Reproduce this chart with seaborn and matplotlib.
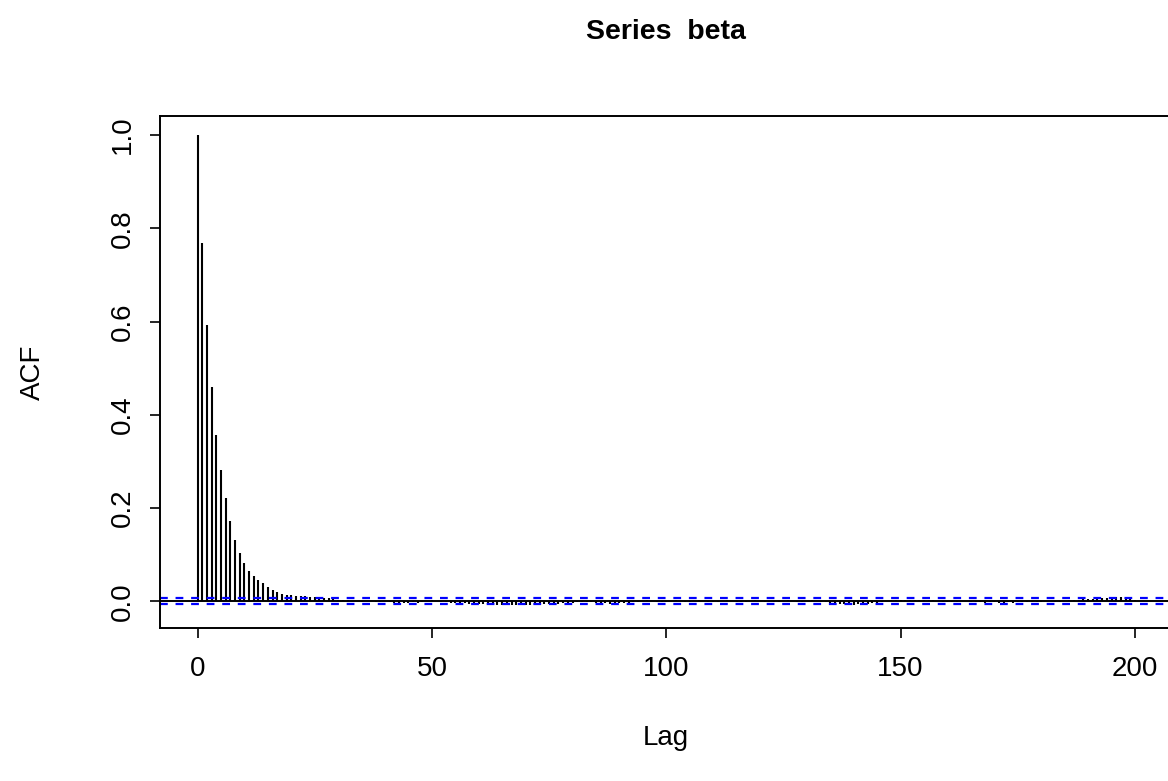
import numpy as np
import pandas as pd
import matplotlib
matplotlib.use("Agg")
import matplotlib.pyplot as plt
import seaborn as sns

# Autocorrelation estimates of the "beta" series, lags 0..200
acf_values = [
    1.000, 0.768, 0.592, 0.460, 0.357, 0.282, 0.221, 0.173, 0.132, 0.104,
    0.082, 0.066, 0.055, 0.046, 0.039, 0.031, 0.025, 0.020, 0.016, 0.014,
    0.013,
    0.012, 0.011, 0.011, 0.010, 0.010, 0.009, 0.008, 0.007, 0.005, 0.004, 0.003,
    0.002, 0.001, 0.000, -0.001, 0.001, 0.000, -0.001, -0.001, 0.000, -0.002, -0.003,
    -0.003, -0.004, -0.003, -0.002, -0.003, -0.002, 0.001, 0.002, 0.001, -0.001,
    -0.002, -0.003, -0.003,
    -0.004, -0.004, -0.005, -0.005, -0.006, -0.005, -0.006, -0.006, -0.007, -0.007,
    -0.008,
    -0.008, -0.007, -0.008, -0.007, -0.007, -0.006, -0.007, -0.006, -0.006, -0.005,
    -0.005, -0.004, -0.004, -0.003,
    -0.002, -0.002, -0.001, -0.002, -0.003, -0.004, -0.004, -0.005, -0.004, -0.004,
    -0.003, -0.004, -0.002, -0.001, 0.001,
    0.002, 0.001, -0.001, -0.002, -0.001, 0.001, 0.002, 0.001, -0.001, -0.001,
    0.001, 0.002, 0.001, -0.001, -0.002, -0.001, 0.001,
    0.002, 0.001, -0.001, -0.002, -0.001, 0.001, 0.002, 0.001, -0.001, -0.002,
    -0.002, -0.001, 0.001, 0.002, 0.001, -0.001, -0.001, 0.001, 0.002, 0.001,
    -0.001, -0.002, -0.003,
    -0.004, -0.005, -0.006, -0.006, -0.007, -0.006, -0.005, -0.006, -0.004, -0.003,
    -0.002, 0.001,
    0.002, 0.003, 0.003, 0.002, 0.003, 0.004, 0.003, 0.003, 0.004, 0.002,
    0.001, -0.001, -0.001,
    -0.002, -0.001, 0.001, 0.001, -0.001, -0.002, -0.002, -0.003, -0.002, -0.002,
    -0.003, -0.003, -0.002, -0.003, -0.002, -0.001, -0.002, -0.001, -0.002, -0.001,
    0.001, 0.001, -0.001,
    -0.001, 0.001, 0.002, 0.002, 0.004, 0.005, 0.006, 0.006, 0.007, 0.007,
    0.008, 0.008, 0.009, 0.009, 0.008, 0.006, 0.004,
]
lags = np.arange(len(acf_values))
conf_limit = 0.0065  # approximate 95% white-noise bound

x_ticks = [0, 50, 100, 150, 200]
y_ticks = [0.0, 0.2, 0.4, 0.6, 0.8, 1.0]

df = pd.DataFrame({"Lag": lags, "ACF": acf_values})

sns.set_theme(style="white")
plt.rcParams["font.family"] = ["Liberation Sans", "DejaVu Sans"]

W, H = 1168, 781
fig = plt.figure(figsize=(W / 100, H / 100), dpi=100)
# plot region in pixels: left 160, right ~1172 (runs past the edge), top 116, bottom 628
left, right, top, bottom = 160, 1172.5, 116, 628
ax = fig.add_axes([left / W, 1 - bottom / H, (right - left) / W, (bottom - top) / H])

# spikes from zero to each autocorrelation value
ax.vlines(df["Lag"], 0, df["ACF"], color="black", linewidth=1.5)
ax.axhline(0, color="black", linewidth=1.4)
for c in (conf_limit, -conf_limit):
    sns.lineplot(x=[-8, 208], y=[c, c], ax=ax, color="#0000FF",
                 linewidth=1.6, linestyle=(0, (3.5, 3.5)))

ax.set_xlim(-8, 208)
ax.set_ylim(-0.057, 1.041)
ax.set_xticks(x_ticks)
ax.set_xticklabels([str(t) for t in x_ticks])
ax.set_yticks(y_ticks)
ax.set_yticklabels([f"{t:.1f}" for t in y_ticks], rotation=90, va="center")

for s in ax.spines.values():
    s.set_color("black")
    s.set_linewidth(1.4)

ax.tick_params(axis="both", which="major", direction="out", length=7.5,
               width=1.2, color="black", labelsize=20, labelcolor="black",
               bottom=True, left=True)
ax.tick_params(axis="x", pad=13)
ax.tick_params(axis="y", pad=10)

ax.set_xlabel("Lag", fontsize=20, color="black")
ax.xaxis.label.set_va("center")
ax.xaxis.set_label_coords(0.5, (bottom - 738) / (bottom - top))
ax.set_ylabel("ACF", fontsize=20, color="black")
ax.yaxis.label.set_va("center")
ax.yaxis.set_label_coords((33 - left) / (right - left), 0.5)

ax.set_title("Series  beta", fontsize=20.5, fontweight="bold", color="black",
             y=(bottom - 32) / (bottom - top), va="center", pad=0)

fig.savefig("out.png", dpi=100, facecolor="white")
